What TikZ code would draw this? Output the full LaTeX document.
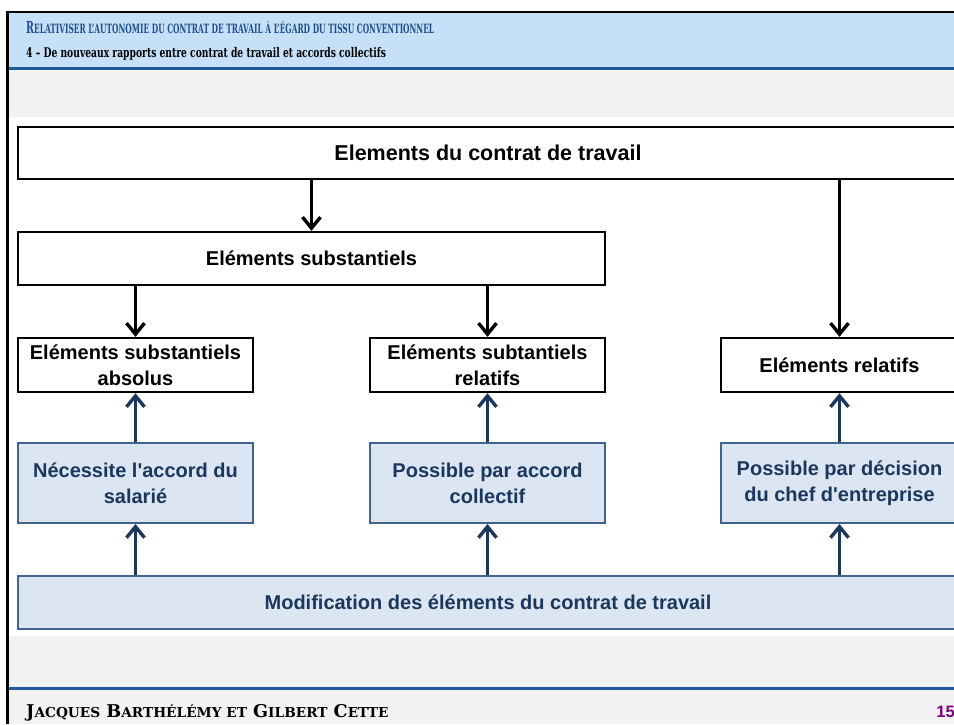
\documentclass[tikz,border=0pt]{standalone}
\usepackage{fontspec}
\usetikzlibrary{arrows.meta}
\setmainfont{Liberation Serif}
\newfontfamily\headfont{DejaVu Serif}[FakeStretch=0.58]
\newfontfamily\subheadfont{DejaVu Serif}[FakeStretch=0.69]
\newfontfamily\footfont{DejaVu Serif}
\newfontfamily\boxfont{Liberation Sans}
\definecolor{headblue}{HTML}{C6E0F8}
\definecolor{headline}{HTML}{1F5A96}
\definecolor{bandgray}{HTML}{F2F2F2}
\definecolor{titleblue}{HTML}{1F4E8C}
\definecolor{boxfill}{HTML}{DCE6F2}
\definecolor{boxedge}{HTML}{41648F}
\definecolor{boxtext}{HTML}{1B375C}
\definecolor{pagepurple}{HTML}{800080}
\newcommand\smc[1]{{\fontsize{12.8}{14}\selectfont #1}}
\newcommand\fsmc[1]{{\fontsize{13.7}{15}\selectfont #1}}
\begin{document}
\begin{tikzpicture}[x=1pt,y=-1pt,
  blackbox/.style={draw=black,line width=2.4pt,fill=white,align=center,inner sep=0pt,
    minimum height=53pt,font={\boxfont\bfseries\fontsize{20}{26}\selectfont}},
  bluebox/.style={draw=boxedge,line width=2pt,fill=boxfill,text=boxtext,align=center,inner sep=0pt,
    minimum height=80pt,minimum width=235pt,font={\boxfont\bfseries\fontsize{20}{26}\selectfont}},
  downarrow/.style={line width=3.4pt,-{Straight Barb[length=11pt,width=18pt]}},
  uparrow/.style={draw=boxtext,line width=3.4pt,-{Straight Barb[length=11pt,width=18pt]}}]
  \useasboundingbox (0,0) rectangle (954,724);
  \clip (0,0) rectangle (954,724);
  \fill[white] (0,0) rectangle (954,724);
  % slide frame and bands
  \fill[headblue] (8,12) rectangle (954,68);
  \fill[bandgray] (8,69) rectangle (954,117);
  \fill[bandgray] (8,636) rectangle (954,724);
  \draw[headline,line width=2.4pt] (8,68.5) -- (954,68.5);
  \draw[headline,line width=2.4pt] (8,688.5) -- (954,688.5);
  \draw[black,line width=2.6pt] (7.5,724) -- (7.5,11.8) -- (954,11.8);
  % header and footer
  \node[anchor=base west,inner sep=0pt,text=titleblue,font={\headfont\bfseries\fontsize{16.5}{18}\selectfont}] (title) at (26,33)
    {R\smc{ELATIVISER L’AUTONOMIE DU CONTRAT DE TRAVAIL À L’ÉGARD DU TISSU CONVENTIONNEL}};
  \node[anchor=base west,inner sep=0pt,font={\subheadfont\bfseries\fontsize{13.3}{15}\selectfont}] (subtitle) at (26,57.5)
    {4 – De nouveaux rapports entre contrat de travail et accords collectifs};
  \node[anchor=base west,inner sep=0pt,font={\footfont\bfseries\fontsize{17.6}{19}\selectfont}] (authors) at (26,717)
    {J\fsmc{ACQUES} B\fsmc{ARTHÉLÉMY ET} G\fsmc{ILBERT} C\fsmc{ETTE}};
  \node[anchor=base east,inner sep=0pt,text=pagepurple,font={\boxfont\bfseries\fontsize{16.5}{18}\selectfont}] (page) at (955,717) {15};
  % boxes
  \node[blackbox,minimum height=52pt,minimum width=940pt,font={\boxfont\bfseries\fontsize{21.5}{26}\selectfont}] (contrat) at (488,153) {Elements du contrat de travail};
  \node[blackbox,minimum width=587pt] (subst) at (311.5,258.5) {Eléments substantiels};
  \node[blackbox,minimum height=54pt,minimum width=235pt] (absolus) at (135.5,365) {Eléments substantiels\\absolus};
  \node[blackbox,minimum height=54pt,minimum width=235pt] (relsubst) at (487.5,365) {Eléments subtantiels\\relatifs};
  \node[blackbox,minimum height=54pt,minimum width=237pt] (relatifs) at (839.5,365) {Eléments relatifs};
  \node[bluebox] (salarie) at (135.5,483) {Nécessite l'accord du\\salarié};
  \node[bluebox] (collectif) at (487.5,483) {Possible par accord\\collectif};
  \node[bluebox,minimum width=237pt] (chef) at (839.5,483) {Possible par décision\\du chef d'entreprise};
  \node[bluebox,minimum height=53pt,minimum width=940pt] (modif) at (488,602.5) {Modification des éléments du contrat de travail};
  % connectors
  \draw[downarrow] (subst.north |- contrat.south) -- (subst.north);
  \draw[downarrow] (relatifs.north |- contrat.south) -- (relatifs.north);
  \draw[downarrow] (absolus.north |- subst.south) -- (absolus.north);
  \draw[downarrow] (relsubst.north |- subst.south) -- (relsubst.north);
  \foreach \top/\mid in {absolus/salarie,relsubst/collectif,relatifs/chef}{
    \draw[uparrow] (\mid.north) -- (\top.south);
    \draw[uparrow] (\mid.south |- modif.north) -- (\mid.south);
  }
\end{tikzpicture}
\end{document}
